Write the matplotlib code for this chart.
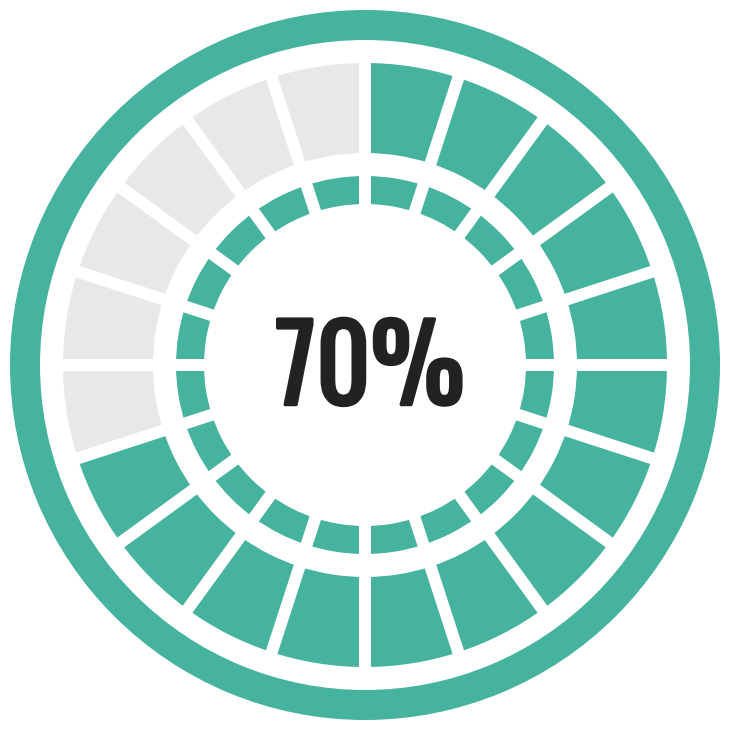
import numpy as np
import matplotlib
matplotlib.use('Agg')
import matplotlib.pyplot as plt
import matplotlib.patheffects as pe

# chart data
percent = 70
n_segments = 20
label = f'{percent}%'

TEAL = '#45b39d'
GREY = '#e8e8e8'
TEXT = '#222222'

n_filled = int(round(percent / 100 * n_segments))
seg_width = 2 * np.pi / n_segments
theta = np.arange(n_segments) * seg_width + seg_width / 2
seg_colors = [TEAL if i < n_filled else GREY for i in range(n_segments)]

fig = plt.figure(figsize=(7.3, 7.3), dpi=100)
ax = fig.add_axes([0, 0, 1, 1], projection='polar')
ax.set_theta_zero_location('N')
ax.set_theta_direction(-1)
ax.set_ylim(0, 365)
ax.axis('off')

# outer solid ring
ax.bar(0, 30, width=2 * np.pi, bottom=325, color=TEAL, linewidth=0)

# big segmented ring (percentage)
ax.bar(theta, 90, width=seg_width, bottom=212, color=seg_colors, linewidth=0)

# small inner segmented ring
ax.bar(theta, 28, width=seg_width, bottom=161, color=TEAL, linewidth=0)

# white gaps of constant width between segments
for t in np.arange(n_segments) * seg_width:
    ax.plot([t, t], [150, 310], color='white', lw=12 * 72 / fig.dpi,
            solid_capstyle='butt')

# centre label, placed in figure coords; thin stroke makes it a bit heavier
fig.text(0.507, 0.491, label, ha='center', va='center', color=TEXT,
         fontsize=76, family=['Oswald', 'DejaVu Sans'],
         path_effects=[pe.withStroke(linewidth=2.4, foreground=TEXT)])

fig.savefig('out.png', dpi=100)
